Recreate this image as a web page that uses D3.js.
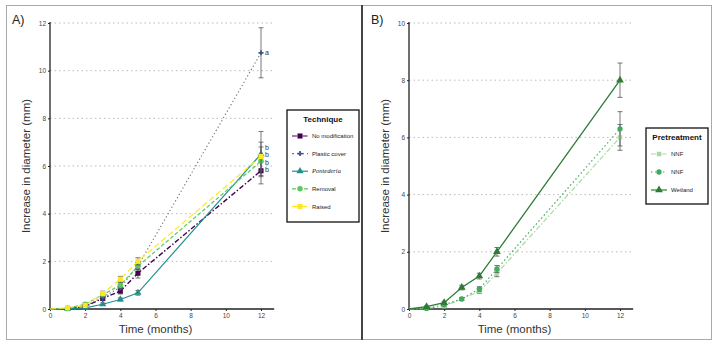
<!DOCTYPE html>
<html>
<head>
<meta charset="utf-8">
<script src="https://cdn.jsdelivr.net/npm/d3@7"></script>
<style>
  body { margin: 0; background: #fff; }
  svg { display: block; font-family: "Liberation Sans", Arial, sans-serif; }
</style>
</head>
<body>
<svg id="chart" width="720" height="346"></svg>
<script>
// time points (months)
const months = [0, 1, 2, 3, 4, 5, 12];

// panel A: technique
const techNames = ["No modification", "Plastic cover", "Pontederia", "Removal", "Raised"];
const noModification = [0, 0.02, 0.1, 0.45, 0.75, 1.5, 5.8];
const plasticCover   = [0, 0.02, 0.12, 0.5, 0.9, 1.8, 10.75];
const pontederia     = [0, 0.01, 0.05, 0.2, 0.4, 0.68, 6.5];
const removal        = [0, 0.03, 0.2, 0.6, 1.0, 1.8, 6.2];
const raised         = [0, 0.05, 0.15, 0.65, 1.25, 2.0, 6.4];
const techErr = [
  [0, 0.02, 0.05, 0.1, 0.12, 0.2, 0.55],
  [0, 0.02, 0.05, 0.08, 0.1, 0.15, 1.05],
  [0, 0.01, 0.03, 0.05, 0.06, 0.1, 0.95],
  [0, 0.02, 0.05, 0.08, 0.12, 0.15, 0.6],
  [0, 0.03, 0.05, 0.1, 0.12, 0.15, 0.6]
];
const techLetters = ["b", "a", "b", "b", "b"];

// panel B: pretreatment
const preNames = ["NNF", "NNF", "Wetland"];
const nnfA    = [0, 0.02, 0.1, 0.35, 0.62, 1.25, 6.0];
const nnfB    = [0, 0.02, 0.15, 0.35, 0.7, 1.4, 6.3];
const wetland = [0, 0.08, 0.22, 0.75, 1.15, 2.0, 8.0];
const preErr = [
  [0, 0.02, 0.04, 0.05, 0.08, 0.12, 0.45],
  [0, 0.02, 0.04, 0.05, 0.08, 0.12, 0.6],
  [0, 0.03, 0.05, 0.08, 0.1, 0.15, 0.6]
];

const svg = d3.select("#chart");

// panel frames
svg.append("rect").attr("x", 6.5).attr("y", 5.5).attr("width", 355).attr("height", 334)
  .attr("fill", "none").attr("stroke", "#aaa").attr("stroke-width", 1);
svg.append("rect").attr("x", 362.5).attr("y", 5.5).attr("width", 349).attr("height", 334)
  .attr("fill", "none").attr("stroke", "#aaa").attr("stroke-width", 1);
svg.append("line").attr("x1", 362).attr("x2", 362).attr("y1", 5).attr("y2", 340)
  .attr("stroke", "#444").attr("stroke-width", 2);

function drawPanel(cfg) {
  const g = svg.append("g");
  const x = d3.scaleLinear().domain([0, 12]).range([cfg.left, cfg.left + 211]);
  const y = d3.scaleLinear().domain([0, cfg.ymax]).range([309, 23]);
  const xEnd = x(12.75);

  // gridlines
  g.selectAll(".grid").data(cfg.yticks.filter(d => d > 0)).join("line")
    .attr("x1", cfg.left).attr("x2", xEnd)
    .attr("y1", d => y(d)).attr("y2", d => y(d))
    .attr("stroke", "#bbb").attr("stroke-width", 1).attr("stroke-dasharray", "1.5,3");

  // axes
  const xAxis = d3.axisBottom(x).tickValues([0, 2, 4, 6, 8, 10, 12]).tickSize(2).tickPadding(2);
  const gx = g.append("g").attr("transform", "translate(0,309)").call(xAxis);
  gx.select(".domain").attr("d", `M${cfg.left},0H${xEnd}`).attr("stroke", "#222").attr("stroke-width", 1.3);
  const yAxis = d3.axisLeft(y).tickValues(cfg.yticks).tickSize(2).tickPadding(2);
  const gy = g.append("g").attr("transform", `translate(${cfg.left},0)`).call(yAxis);
  gy.select(".domain").attr("d", `M0,${y(cfg.ymax) - 1}V309`).attr("stroke", "#222").attr("stroke-width", 1.3);
  g.selectAll(".tick text").attr("font-size", 6.5).attr("fill", "#444").attr("font-family", "Liberation Sans, Arial, sans-serif");
  g.selectAll(".tick line").attr("stroke", "#222");

  // titles
  g.append("text").attr("x", x(6)).attr("y", 333).attr("text-anchor", "middle")
    .attr("font-size", 11.5).attr("fill", "#333").text("Time (months)");
  g.append("text").attr("transform", `translate(${cfg.left - 20},${y(cfg.ymax / 2)}) rotate(-90)`)
    .attr("text-anchor", "middle").attr("font-size", 11.5).attr("fill", "#333")
    .text("Increase in diameter (mm)");
  g.append("text").attr("x", cfg.left - 38).attr("y", 24).attr("font-size", 12.5)
    .attr("fill", "#222").text(cfg.label);

  const line = d3.line().x((d, i) => x(months[i])).y(d => y(d));

  // lines
  cfg.series.forEach(s => {
    g.append("path").attr("d", line(s.values)).attr("fill", "none")
      .attr("stroke", s.lineColor || s.color).attr("stroke-width", s.width || 1.2)
      .attr("stroke-dasharray", s.dash);
  });

  // error bars and markers
  cfg.series.forEach(s => {
    s.values.forEach((v, i) => {
      if (i === 0) return;
      const e = s.err[i];
      const cx = x(months[i]);
      g.append("line").attr("x1", cx).attr("x2", cx).attr("y1", y(v - e)).attr("y2", y(v + e))
        .attr("stroke", "#555").attr("stroke-width", 0.8);
      [v - e, v + e].forEach(t => g.append("line").attr("x1", cx - 2.5).attr("x2", cx + 2.5)
        .attr("y1", y(t)).attr("y2", y(t)).attr("stroke", "#555").attr("stroke-width", 0.8));
    });
    g.selectAll(null).data(s.values.slice(1)).join("path")
      .attr("transform", (d, i) => `translate(${x(months[i + 1])},${y(d)})`)
      .attr("d", d3.symbol().type(s.symbol).size(s.size || 22))
      .attr("fill", s.color);
  });

  // letters
  if (cfg.letters) {
    cfg.letters.forEach(l => {
      g.append("text").attr("x", x(12) + 4).attr("y", l.y + 2.5).attr("font-size", 7)
        .attr("fill", "#333").text(l.t);
    });
  }

  // legend
  const L = cfg.legend;
  g.append("rect").attr("x", L.x).attr("y", L.y).attr("width", L.w).attr("height", L.h)
    .attr("fill", "#fff").attr("stroke", "#111").attr("stroke-width", 1.3);
  g.append("text").attr("x", L.x + L.w / 2).attr("y", L.y + 12).attr("text-anchor", "middle")
    .attr("font-size", 8).attr("font-weight", "bold").attr("fill", "#111").text(L.title);
  cfg.series.forEach((s, i) => {
    const ly = L.y + L.first + i * L.step;
    g.append("line").attr("x1", L.x + 5).attr("x2", L.x + 21).attr("y1", ly).attr("y2", ly)
      .attr("stroke", s.lineColor || s.color).attr("stroke-width", 1.2)
      .attr("stroke-dasharray", s.legDash || s.dash);
    g.append("path").attr("transform", `translate(${L.x + 13},${ly})`)
      .attr("d", d3.symbol().type(s.symbol).size(s.size || 22)).attr("fill", s.color);
    const t = g.append("text").attr("x", L.x + 25).attr("y", ly + 2.2).attr("font-size", 6)
      .attr("fill", "#222").text(s.name);
    if (s.italic) t.attr("font-style", "italic").attr("font-family", "Liberation Serif, serif").attr("font-size", 6.5);
  });
}

const techSeries = [noModification, plasticCover, pontederia, removal, raised];
const techStyle = [
  { color: "#440154", symbol: d3.symbolSquare, dash: "5,2,1.5,2", width: 1.4, size: 26 },
  { color: "#3b528b", lineColor: "#777", symbol: d3.symbolCross, dash: "1.2,2.5", size: 14, legDash: "2,3" },
  { color: "#21908d", symbol: d3.symbolTriangle, dash: null, size: 22, italic: true },
  { color: "#5dc863", symbol: d3.symbolCircle, dash: "4,2", size: 24 },
  { color: "#fde725", symbol: d3.symbolSquare, dash: "6,3", size: 26 }
];

drawPanel({
  label: "A)",
  left: 50,
  ymax: 12,
  yticks: [0, 2, 4, 6, 8, 10, 12],
  series: techSeries.map((v, i) => Object.assign({ name: techNames[i], values: v, err: techErr[i] }, techStyle[i])),
  letters: [
    { t: techLetters[1], y: 309 - 10.75 * 23.83 },
    { t: techLetters[2], y: 147 },
    { t: techLetters[3], y: 154.5 },
    { t: techLetters[4], y: 162 },
    { t: techLetters[0], y: 169 }
  ],
  legend: { x: 287, y: 110, w: 72, h: 112, title: "Technique", first: 26, step: 17.6 }
});

const preSeries = [nnfA, nnfB, wetland];
const preStyle = [
  { color: "#a6dba0", symbol: d3.symbolSquare, dash: "5,2,1.5,2", size: 20 },
  { color: "#41ab5d", symbol: d3.symbolCircle, dash: "1.5,2.5", size: 22 },
  { color: "#2d7d35", symbol: d3.symbolTriangle, dash: null, size: 26, width: 1.3 }
];

drawPanel({
  label: "B)",
  left: 409,
  ymax: 10,
  yticks: [0, 2, 4, 6, 8, 10],
  series: preSeries.map((v, i) => Object.assign({ name: preNames[i], values: v, err: preErr[i] }, preStyle[i])),
  legend: { x: 646, y: 128, w: 62, h: 76, title: "Pretreatment", first: 26, step: 18 }
});
</script>
</body>
</html>
